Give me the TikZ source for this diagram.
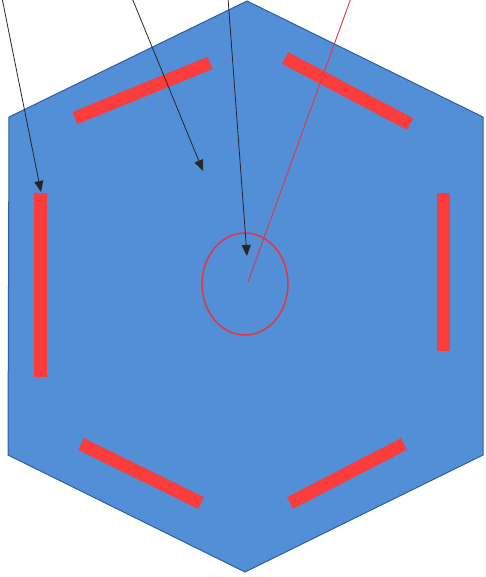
\documentclass[tikz,border=0pt]{standalone}
\usetikzlibrary{arrows.meta,shapes.geometric}
\definecolor{hexblue}{RGB}{82,143,214}
\definecolor{hexedge}{RGB}{45,95,165}
\definecolor{barred}{RGB}{250,60,60}
\definecolor{ringred}{RGB}{225,55,65}
\tikzset{
  bar/.style={draw=barred,line width=13pt,line cap=butt},
  pointer/.style={draw=black!85,line width=0.8pt,-{Triangle[length=11pt,width=9pt]}},
  redline/.style={draw=ringred,line width=0.9pt},
}
\begin{document}
\begin{tikzpicture}[x=1pt,y=-1pt]
\useasboundingbox (0,0) rectangle (486,577);
% hexagon
\coordinate (T) at (247,1);
\coordinate (UL) at (9,117);
\coordinate (LL) at (8,455);
\coordinate (B) at (245,572);
\coordinate (LR) at (483,455);
\coordinate (UR) at (483,117);
\fill[hexblue] (T) -- (UL) -- (LL) -- (B) -- (LR) -- (UR) -- cycle;
\draw[hexedge,line width=1pt] (T) -- (UL) -- (LL) -- (B) -- (LR) -- (UR) -- cycle;
% bars
\coordinate (b1a) at (75,118); \coordinate (b1b) at (210,63);
\coordinate (b2a) at (285,58); \coordinate (b2b) at (410,124);
\coordinate (b3a) at (40,193); \coordinate (b3b) at (40,377);
\coordinate (b4a) at (443,193); \coordinate (b4b) at (443,351);
\coordinate (b5a) at (81,444); \coordinate (b5b) at (201,503);
\coordinate (b6a) at (290,503); \coordinate (b6b) at (404,444);
\draw[bar] (b1a) -- (b1b);
\draw[bar] (b2a) -- (b2b);
\draw[bar] (b3a) -- (b3b);
\draw[bar] (b4a) -- (b4b);
\draw[bar] (b5a) -- (b5b);
\draw[bar] (b6a) -- (b6b);
% circle
\node[ellipse,draw=ringred,line width=1.5pt,minimum width=86pt,minimum height=102pt,inner sep=0pt] (ring) at (245,284) {};
% arrows
\coordinate (s1) at (2,-2);  \coordinate (e1) at (41,192);
\coordinate (s2) at (132,-2); \coordinate (e2) at (203,171);
\coordinate (s3) at (228,-2); \coordinate (e3) at (247,256);
\coordinate (s4) at (351,-2); \coordinate (e4) at (248,282);
\draw[pointer] (s1) -- (e1);
\draw[pointer] (s2) -- (e2);
\draw[pointer] (s3) -- (e3);
\draw[redline] (s4) -- (e4);
\end{tikzpicture}
\end{document}
